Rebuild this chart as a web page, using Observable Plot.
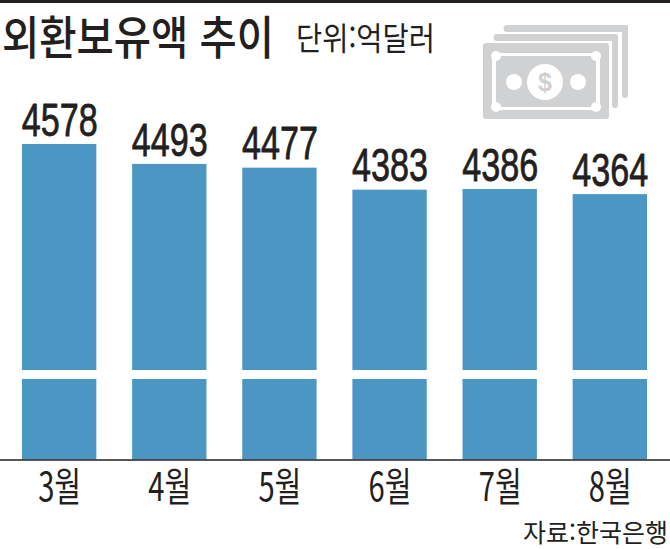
<!DOCTYPE html>
<html lang="ko">
<head>
<meta charset="utf-8">
<script src="https://cdn.jsdelivr.net/npm/d3@7"></script>
<script src="https://cdn.jsdelivr.net/npm/@observablehq/plot@0.6"></script>
<style>
html,body{margin:0;padding:0;background:#fff;width:670px;height:549px;overflow:hidden}
#wrap{position:relative;width:670px;height:549px}
#wrap>svg{position:absolute;left:0;top:0}
#topbar{position:absolute;left:0;top:0;width:670px;height:3px;background:#231f20}
</style>
</head>
<body>
<div id="wrap"><div id="topbar"></div></div>
<script>
const months = ["3월","4월","5월","6월","7월","8월"];
const reserves = [4578,4493,4477,4383,4386,4364];
const axisFloor = 3231;
const breakValue = 3596;
const titleText = "외환보유액 추이";
const unitText = "단위:억달러";
const sourceText = "자료:한국은행";

const ink = "#231f20", blue = "#4b96c3";
const data = months.map((m,i)=>({month:m,value:reserves[i]}));

const plot = Plot.plot({
  width:670, height:549,
  marginTop:0, marginBottom:0, marginLeft:0, marginRight:0,
  style:{background:"transparent"},
  x:{domain:months, range:[-13.8,682.8], padding:0.325, align:0.5, round:false, axis:null},
  y:{domain:[axisFloor,4578], range:[459.5,144], axis:null},
  marks:[
    Plot.barY(data,{x:"month",y1:axisFloor,y2:"value",fill:blue}),
    Plot.ruleY([breakValue],{stroke:"#fff",strokeWidth:9}),
    Plot.ruleY([axisFloor],{stroke:ink,strokeWidth:1.6}),
    Plot.text(data,{x:"month",y:"value",text:d=>String(d.value),dy:-23.5,
      fontSize:46,fontFamily:"Liberation Sans",fill:ink,stroke:ink,strokeWidth:0.8,className:"val"}),
    Plot.text(data,{x:"month",y:axisFloor,text:"month",dy:28,
      fontSize:40,fontFamily:"Noto Sans CJK KR",fill:ink,className:"mon"})
  ]
});
document.getElementById("wrap").appendChild(plot);
function squeeze(sel,width){
  plot.querySelectorAll(sel).forEach(t=>{
    const sx=width/t.getComputedTextLength();
    t.setAttribute("transform",(t.getAttribute("transform")||"")+` scale(${sx},1)`);
  });
}
squeeze(".val text",76);
squeeze(".mon text",43);

function label(text,x,y,size,weight,width){
  const s=document.createElementNS("http://www.w3.org/2000/svg","svg");
  s.setAttribute("width",670);s.setAttribute("height",549);
  s.style.pointerEvents="none";
  const t=document.createElementNS("http://www.w3.org/2000/svg","text");
  t.textContent=text;
  t.setAttribute("font-size",size);t.setAttribute("font-weight",weight);
  t.setAttribute("font-family","Noto Sans CJK KR");t.setAttribute("fill",ink);
  s.appendChild(t);
  document.getElementById("wrap").appendChild(s);
  const sx=width/t.getComputedTextLength();
  t.setAttribute("transform",`translate(${x},${y}) scale(${sx},1)`);
}
label(titleText,2,54,46,500,272);
label(unitText,296,50,32,400,139);
label(sourceText,523,541.5,25.5,400,145);

const icon=`<svg width="670" height="549" xmlns="http://www.w3.org/2000/svg">
<g fill="#cfd1d3">
<path d="M507 25H626a2 2 0 0 1 2 2V95a3 3 0 0 1-6 0V32H507a3.500 3.500 0 0 1 0-7z"/>
<path d="M497 34H616a2 2 0 0 1 2 2V105a3 3 0 0 1-6 0V41H497a3.500 3.500 0 0 1 0-7z"/>
<rect x="483" y="43" width="126" height="76" rx="3"/>
</g>
<rect x="492" y="53" width="108" height="57" fill="#fff"/>
<rect x="496" y="56" width="100" height="51" fill="#cfd1d3"/>
<g fill="#fff">
<circle cx="496" cy="56" r="5"/><circle cx="596" cy="56" r="5"/><circle cx="496" cy="107" r="5"/><circle cx="596" cy="107" r="5"/>
<circle cx="545" cy="82" r="18"/><circle cx="514" cy="82" r="8"/><circle cx="578" cy="82" r="8"/>
</g>
<text x="545" y="91" text-anchor="middle" font-family="Liberation Sans" font-weight="700" font-size="25" fill="#cfd1d3">$</text>
</svg>`;
document.getElementById("wrap").insertAdjacentHTML("beforeend",icon);
</script>
</body>
</html>
